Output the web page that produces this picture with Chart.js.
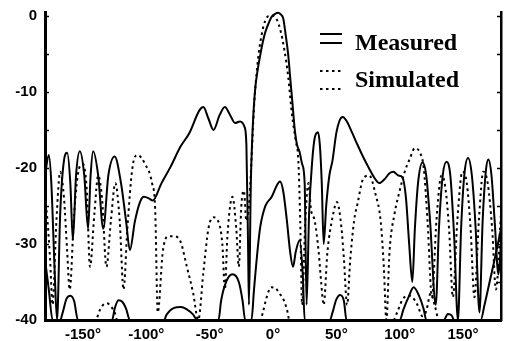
<!DOCTYPE html>
<html>
<head>
<meta charset="utf-8">
<script src="https://cdn.jsdelivr.net/npm/chart.js@4.4.1/dist/chart.umd.min.js"></script>
<style>
  html, body { margin: 0; padding: 0; background: #fff; }
  canvas { display: block; }
</style>
</head>
<body>
<canvas id="pattern" width="506" height="341"></canvas>
<script>
// values: [angle in degrees, level in dB]
const copolMeasured = [
  [-180, -21], [-177, -18.3], [-175, -22], [-172.5, -33], [-170.5, -40], [-168, -26],
  [-165, -19], [-162.5, -18], [-160, -22], [-158, -29.5], [-155.5, -21], [-152.5, -17.8],
  [-149, -21], [-146, -28], [-144, -21], [-142, -17.8], [-138, -21], [-134, -28],
  [-130, -21], [-125, -18.5], [-120, -22], [-116, -27], [-113, -30.8], [-109, -27],
  [-105, -24.5], [-102, -23.8], [-98, -24], [-95, -24.3], [-88, -22], [-81, -19.9],
  [-73, -17.2], [-66, -15.4], [-58, -12.4], [-55, -12], [-51, -13.5], [-47, -15],
  [-42, -13], [-38, -12], [-34, -13], [-30, -14.1], [-26, -13.9], [-22.5, -14.6],
  [-21, -17], [-19.7, -30], [-19, -38], [-17.5, -22], [-16.6, -17], [-15.5, -13],
  [-14, -9.5], [-12, -7], [-10, -5.1], [-8, -3.4], [-6, -2.1], [-3, -0.8], [-1, -0.1],
  [2, 0.3], [4, 0.4], [6, 0.2], [8, -0.3], [10, -2.5], [12, -5.1], [13.5, -8],
  [15, -10.8], [17.4, -15.3], [19, -17], [21, -17.9], [23, -19.5], [25, -22],
  [26.5, -38], [28.5, -26], [31, -19], [33, -16], [35.5, -15.3], [37, -17],
  [38.5, -22], [40, -30], [42, -25], [44.5, -21], [47, -19], [50, -15.4],
  [52.5, -13.8], [55, -13.3], [58, -13.8], [62, -15.2], [66, -16.7], [71, -18.5],
  [76.6, -20.3], [80, -21.3], [84, -22], [88, -21.5], [92, -20.7], [95, -20.5],
  [99, -21], [102, -21.2], [105, -24], [107.5, -30], [110, -35], [112, -28],
  [114.5, -22], [118, -19.3], [121, -21], [124, -27], [128.5, -38], [131, -28],
  [134, -21], [137, -19.2], [140, -21], [143, -29], [146, -40], [148.5, -28],
  [151, -21], [154, -18.7], [157, -21], [160, -28], [163, -39], [165.5, -27],
  [168, -20.5], [170, -18.9], [172.5, -21], [175, -27], [178, -34], [180, -30]
];

const copolSimulated = [
  [-180, -24], [-178, -27], [-176, -32], [-174, -38], [-171, -27], [-168, -20.5],
  [-165, -24], [-162.5, -31], [-160.5, -36], [-157, -26], [-153, -20], [-150, -19.5],
  [-147, -23], [-144.5, -33], [-141, -26], [-138, -21], [-135, -24], [-131.5, -33],
  [-128, -27], [-124.5, -22], [-121, -27], [-118, -36], [-115, -28], [-111, -20],
  [-107, -18.3], [-101, -19.5], [-95.5, -22], [-93, -25.5], [-91, -39], [-87, -31],
  [-83, -29], [-78, -29], [-73, -29.7], [-68, -33], [-63, -36.5], [-59, -40],
  [-55, -33.8], [-51, -28], [-47, -26.5], [-44, -26.8], [-40, -30], [-38, -36],
  [-36, -29], [-32, -23.8], [-29, -28], [-27, -33], [-25, -25], [-23, -23],
  [-21, -27], [-19, -25], [-17, -19], [-15, -12], [-12, -6], [-9, -2.5],
  [-6, -0.6], [-3, 0], [0, 0], [3, -0.5], [6, -2], [9, -4.5], [12, -8],
  [15, -13], [18, -16.5], [20, -19], [21.5, -27], [23, -38], [25.5, -27],
  [28, -22], [30, -25.5], [33, -27], [36, -31], [38, -35], [40, -38],
  [43, -31], [47, -26.5], [50.5, -24.5], [54, -27.8], [56, -32], [58.5, -38],
  [61, -32], [64, -27], [67, -24.5], [71, -21.5], [76, -21], [81, -23.5],
  [85, -27], [87.5, -33], [89.5, -40], [92, -31], [96, -26], [100, -23],
  [104, -20.5], [108, -18.8], [112, -17.4], [116, -18], [119, -20], [122, -27],
  [125.5, -37], [129, -27], [133, -21], [136, -22.5], [139, -28], [142, -37],
  [145.5, -27], [149.5, -20.5], [153, -22], [156, -28], [159, -37], [162.5, -27],
  [166, -20.5], [169.5, -22], [173, -28], [176, -36], [180, -26]
];

const xpolMeasured = [
  [-180, -32], [-177, -36], [-174, -40], [-168, -40], [-166, -39], [-163, -37.2],
  [-160, -36.8], [-157, -37.5], [-154, -40], [-127, -40], [-125, -38.5], [-122, -37.4],
  [-119, -37.6], [-116, -38.5], [-113, -40], [-86, -40], [-84, -39.3], [-78, -38.4],
  [-73, -38.3], [-68, -38.6], [-63, -39.3], [-60, -40], [-43, -40], [-41, -37.5],
  [-37, -35], [-32, -34], [-27, -35], [-24, -37.5], [-22, -40], [-17, -40],
  [-15, -36], [-12, -30.5], [-10, -27.7], [-6, -25], [-1, -23.8], [3, -22.3],
  [5.5, -21.8], [8, -23], [11, -27], [13.5, -31], [15.8, -33], [18, -31],
  [21, -29.5], [23.5, -34], [25, -40], [45, -40], [47, -39], [50, -37.3],
  [53, -36.7], [56, -37.5], [58, -40], [100, -40], [103, -38.6], [107, -37],
  [111, -35.7], [115, -36.7], [119, -38.6], [121, -40], [135, -40], [138, -39.2],
  [141, -39.4], [143, -40], [164, -40], [167, -38], [171, -35], [175, -32], [180, -28]
];

const xpolSimulated = [
  [-180, -40], [-140, -40], [-137, -38.8], [-134, -38], [-131, -37.8], [-128, -38.2],
  [-125, -39], [-123, -40], [-10, -40], [-8, -39], [-5, -37], [-1.5, -35.7],
  [2, -35.8], [5, -36.5], [8, -37.2], [11, -38.6], [13, -40], [95, -40],
  [98, -39], [102, -37.4], [106, -36.8], [110, -37], [114, -38], [118, -39.5],
  [121, -38.8], [124.5, -36.5], [128, -38.3], [131, -40], [180, -40]
];

const xTickValues = [-150, -100, -50, 0, 50, 100, 150];
const yTickValues = [-40, -30, -20, -10, 0];
const yMinorTicks = [-40, -35, -30, -25, -20, -15, -10, -5, 0];
const legendLabels = ['Measured', 'Simulated'];

const toPoints = rows => rows.map(([x, y]) => ({x: x, y: y}));

function lineSet(label, rows, dashed) {
  return {
    label: label,
    data: toPoints(rows),
    borderColor: '#000',
    borderWidth: 2,
    borderDash: dashed ? [2.5, 3.5] : [],
    pointRadius: 0,
    cubicInterpolationMode: 'monotone',
    clip: 4
  };
}

// tick marks pointing into the plot on both side axes
const innerTicks = {
  id: 'innerTicks',
  afterDraw(chart) {
    const {ctx, chartArea, scales} = chart;
    ctx.save();
    ctx.strokeStyle = '#000';
    ctx.lineWidth = 1.5;
    yMinorTicks.forEach(v => {
      const py = Math.round(scales.y.getPixelForValue(v)) + 0.5;
      ctx.beginPath();
      ctx.moveTo(chartArea.left, py);
      ctx.lineTo(chartArea.left + 4, py);
      ctx.moveTo(chartArea.right, py);
      ctx.lineTo(chartArea.right - 4, py);
      ctx.stroke();
    });
    ctx.restore();
  }
};

// legend inside the plot: a pair of short lines per entry, like the scan
const pairLegend = {
  id: 'pairLegend',
  afterDraw(chart) {
    const ctx = chart.ctx;
    const rows = [
      {lines: [34, 43], base: 50, dash: []},
      {lines: [71, 89], base: 87, dash: [2.5, 3.5]}
    ];
    ctx.save();
    ctx.strokeStyle = '#000';
    ctx.fillStyle = '#000';
    ctx.lineWidth = 2;
    ctx.font = 'bold 24px "Liberation Serif", "Times New Roman", serif';
    ctx.textBaseline = 'alphabetic';
    rows.forEach((r, i) => {
      ctx.setLineDash(r.dash);
      r.lines.forEach(ly => {
        ctx.beginPath();
        ctx.moveTo(320, ly);
        ctx.lineTo(342, ly);
        ctx.stroke();
      });
      ctx.setLineDash([]);
      ctx.fillText(legendLabels[i], 355, r.base);
    });
    ctx.restore();
  }
};

const tickFont = {family: '"Liberation Sans", Arial, sans-serif', size: 15, weight: 'bold'};

// keep the plot box fixed: no extra room reserved for overhanging labels
const fixSide = size => s => {
  if (s.isHorizontal()) { s.height = size; } else { s.width = size; }
  s.paddingTop = 0; s.paddingBottom = 0; s.paddingLeft = 0; s.paddingRight = 0;
};

new Chart(document.getElementById('pattern'), {
  type: 'line',
  data: {
    datasets: [
      lineSet('Measured', copolMeasured, false),
      lineSet('Simulated', copolSimulated, true),
      lineSet('Measured (cross)', xpolMeasured, false),
      lineSet('Simulated (cross)', xpolSimulated, true)
    ]
  },
  options: {
    responsive: false,
    animation: false,
    devicePixelRatio: 1,
    layout: {padding: {top: 12, left: 0, right: 0, bottom: 0}},
    scales: {
      x: {
        type: 'linear',
        min: -180,
        max: 180,
        afterBuildTicks: s => { s.ticks = xTickValues.map(v => ({value: v})); },
        afterFit: fixSide(21),
        grid: {display: false, drawTicks: false},
        border: {display: true, color: '#000', width: 3},
        ticks: {
          color: '#000',
          font: tickFont,
          padding: 6,
          maxRotation: 0,
          autoSkip: false,
          callback: v => v + '°'
        }
      },
      y: {
        type: 'linear',
        position: 'left',
        min: -40,
        max: 0.5,
        afterBuildTicks: s => { s.ticks = yTickValues.map(v => ({value: v})); },
        afterFit: fixSide(45),
        grid: {display: false, drawTicks: false},
        border: {display: true, color: '#000', width: 3},
        ticks: {
          color: '#000',
          font: tickFont,
          padding: 8,
          callback: v => String(v)
        }
      },
      y2: {
        type: 'linear',
        position: 'right',
        min: -40,
        max: 0.5,
        afterFit: fixSide(5),
        grid: {display: false, drawTicks: false},
        border: {display: true, color: '#000', width: 2.5},
        ticks: {display: false}
      }
    },
    plugins: {
      legend: {display: false},
      tooltip: {enabled: false}
    }
  },
  plugins: [innerTicks, pairLegend]
});
</script>
</body>
</html>
